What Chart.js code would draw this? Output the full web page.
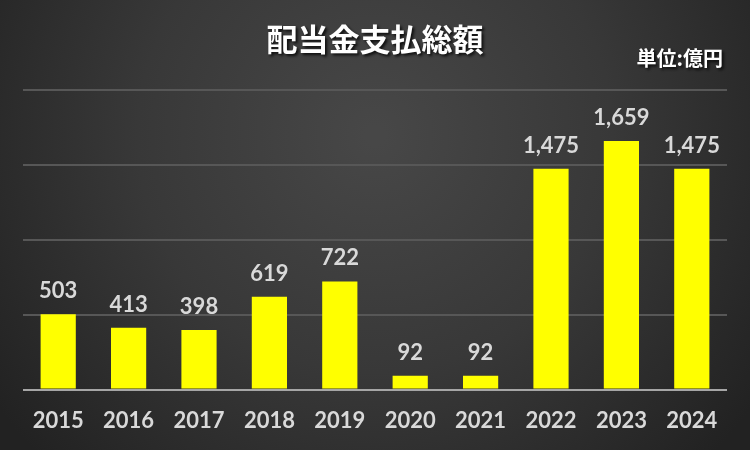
<!DOCTYPE html>
<html>
<head>
<meta charset="utf-8">
<script src="https://cdn.jsdelivr.net/npm/chart.js@4/dist/chart.umd.min.js"></script>
<style>
html,body{margin:0;padding:0;background:#2a2a2a;}
#wrap{width:750px;height:450px;position:relative;}
</style>
</head>
<body>
<div id="wrap"><canvas id="c" width="750" height="450"></canvas></div>
<script>
const categories = ['2015','2016','2017','2018','2019','2020','2021','2022','2023','2024'];
const dividends = [503, 413, 398, 619, 722, 92, 92, 1475, 1659, 1475];
const yTicks = [0, 500, 1000, 1500, 2000];
const titleText = '配当金支払総額';
const unitText = '単位:億円';

const bgPlugin = {
  id: 'bg',
  beforeDraw(chart) {
    const ctx = chart.ctx;
    const w = chart.width, h = chart.height;
    ctx.save();
    const g = ctx.createRadialGradient(w/2, h*0.3, 10, w/2, h*0.3, w*0.62);
    g.addColorStop(0, '#474747');
    g.addColorStop(0.5, '#383838');
    g.addColorStop(1, '#222222');
    ctx.fillStyle = g;
    ctx.fillRect(0, 0, w, h);
    // title
    ctx.font = 'bold 31px "Noto Sans CJK JP"';
    ctx.textAlign = 'center';
    ctx.textBaseline = 'middle';
    ctx.shadowColor = 'rgba(0,0,0,0.8)';
    ctx.shadowOffsetX = 2;
    ctx.shadowOffsetY = 2;
    ctx.shadowBlur = 3;
    ctx.fillStyle = '#ffffff';
    ctx.fillText(titleText, w/2, 39);
    ctx.font = 'bold 20px "Noto Sans CJK JP"';
    ctx.textAlign = 'right';
    ctx.fillText(unitText, 723, 58);
    ctx.restore();
  }
};

const labelPlugin = {
  id: 'barLabels',
  afterDatasetsDraw(chart) {
    const ctx = chart.ctx;
    const meta = chart.getDatasetMeta(0);
    ctx.save();
    ctx.font = 'bold 22px Lato';
    ctx.fillStyle = '#d9d9d9';
    ctx.textAlign = 'center';
    ctx.textBaseline = 'alphabetic';
    meta.data.forEach((bar, i) => {
      ctx.fillText(dividends[i].toLocaleString('en-US'), bar.x, bar.y - 16);
    });
    ctx.restore();
  }
};

new Chart(document.getElementById('c'), {
  type: 'bar',
  data: {
    labels: categories,
    datasets: [{
      data: dividends,
      backgroundColor: '#ffff00',
      borderWidth: 0,
      barPercentage: 0.5,
      categoryPercentage: 1.0
    }]
  },
  options: {
    responsive: false,
    animation: false,
    devicePixelRatio: 1,
    layout: { padding: { left: 23, right: 23, top: 90, bottom: 6 } },
    plugins: { legend: { display: false }, title: { display: false }, tooltip: { enabled: false } },
    scales: {
      x: {
        grid: { display: false },
        border: { display: false },
        ticks: { color: '#d9d9d9', font: { family: 'Lato', weight: 'bold', size: 22 }, padding: 10, maxRotation: 0 }
      },
      y: {
        min: 0, max: 2000,
        afterBuildTicks(axis) { axis.ticks = yTicks.map(v => ({ value: v })); },
        ticks: { display: false },
        border: { display: false },
        grid: {
          drawTicks: false,
          lineWidth: 2,
          color: ctx => (ctx.tick && ctx.tick.value === 0) ? '#a6a6a6' : '#575757'
        }
      }
    }
  },
  plugins: [bgPlugin, labelPlugin]
});
</script>
</body>
</html>
